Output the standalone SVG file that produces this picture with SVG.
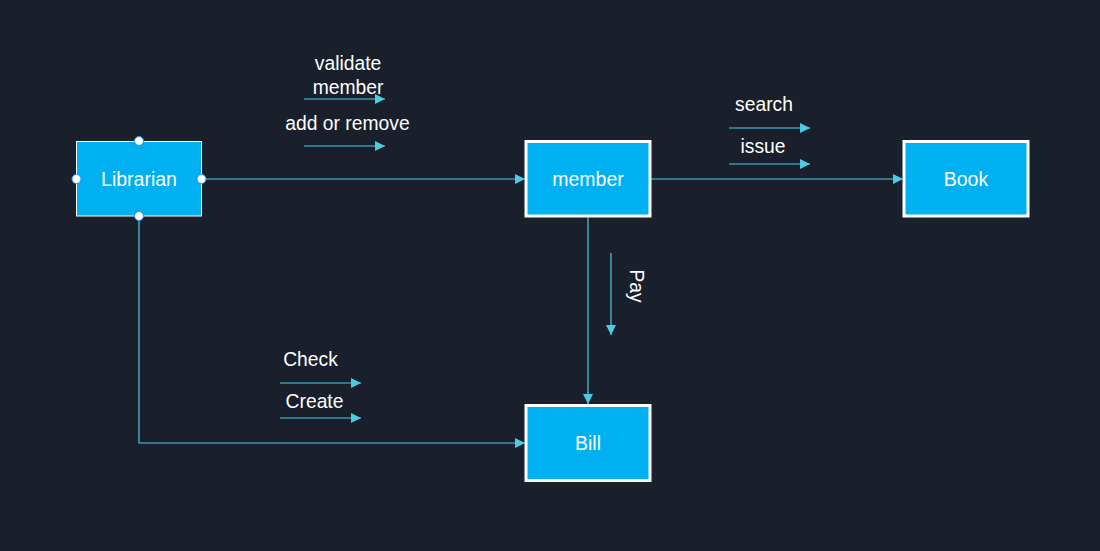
<svg xmlns="http://www.w3.org/2000/svg" width="1100" height="551" viewBox="0 0 1100 551">
<style>
.node{fill:#00b0f0;stroke:#ffffff;stroke-width:3}
.nt{font-family:"Liberation Sans",Arial,sans-serif;font-size:19.5px;fill:#ffffff;text-anchor:middle}
.lbl{font-family:"Liberation Sans",Arial,sans-serif;font-size:19.3px;fill:#ffffff;text-anchor:middle}
.con{fill:none;stroke:#4acde2;stroke-width:1.2}
.handle{fill:#ffffff;stroke:#1e90ff;stroke-width:1}
</style>
<defs>
<marker id="arr" viewBox="0 0 10 10" refX="10" refY="5" markerWidth="10" markerHeight="10" markerUnits="userSpaceOnUse" orient="auto">
<path d="M0,0 L10,5 L0,10 z" fill="#4acde2"/>
</marker>
</defs>
<rect width="1100" height="551" fill="#19202c"/>
<g id="connectors">
<path class="con" d="M201,179 H525" marker-end="url(#arr)"/>
<path class="con" d="M651,179 H903" marker-end="url(#arr)"/>
<path class="con" d="M588,216 V404" marker-end="url(#arr)"/>
<path class="con" d="M139,216 V443 H525" marker-end="url(#arr)"/>
<path class="con" d="M304,99 H385" marker-end="url(#arr)"/>
<path class="con" d="M304,146 H385" marker-end="url(#arr)"/>
<path class="con" d="M729,128 H810" marker-end="url(#arr)"/>
<path class="con" d="M729,164 H810" marker-end="url(#arr)"/>
<path class="con" d="M611,253 V335" marker-end="url(#arr)"/>
<path class="con" d="M280,383 H361" marker-end="url(#arr)"/>
<path class="con" d="M280,418 H361" marker-end="url(#arr)"/>
</g>
<g id="labels">
<text class="lbl" x="348" y="70">validate</text>
<text class="lbl" x="348" y="94">member</text>
<text class="lbl" x="347.5" y="130">add or remove</text>
<text class="lbl" x="764" y="111">search</text>
<text class="lbl" x="763" y="153">issue</text>
<text class="lbl" transform="translate(630,286) rotate(90)">Pay</text>
<text class="lbl" x="310.5" y="366">Check</text>
<text class="lbl" x="314.5" y="408">Create</text>
</g>
<g id="librarian">
<rect x="76.5" y="141.5" width="125" height="74.5" fill="#00b0f0" stroke="#ffffff" stroke-width="1"/>
<text class="nt" x="139" y="186">Librarian</text>
<circle class="handle" cx="139" cy="141" r="4.5"/>
<circle class="handle" cx="76.5" cy="179" r="4.5"/>
<circle class="handle" cx="201.5" cy="179" r="4.5"/>
<circle class="handle" cx="139" cy="216" r="4.5"/>
</g>
<g id="member">
<rect class="node" x="526" y="141.5" width="124" height="74.5"/>
<text class="nt" x="588" y="186">member</text>
</g>
<g id="book">
<rect class="node" x="904" y="141.5" width="124" height="74.5"/>
<text class="nt" x="966" y="186">Book</text>
</g>
<g id="bill">
<rect class="node" x="526" y="405.5" width="124" height="75"/>
<text class="nt" x="588" y="450">Bill</text>
</g>
</svg>
